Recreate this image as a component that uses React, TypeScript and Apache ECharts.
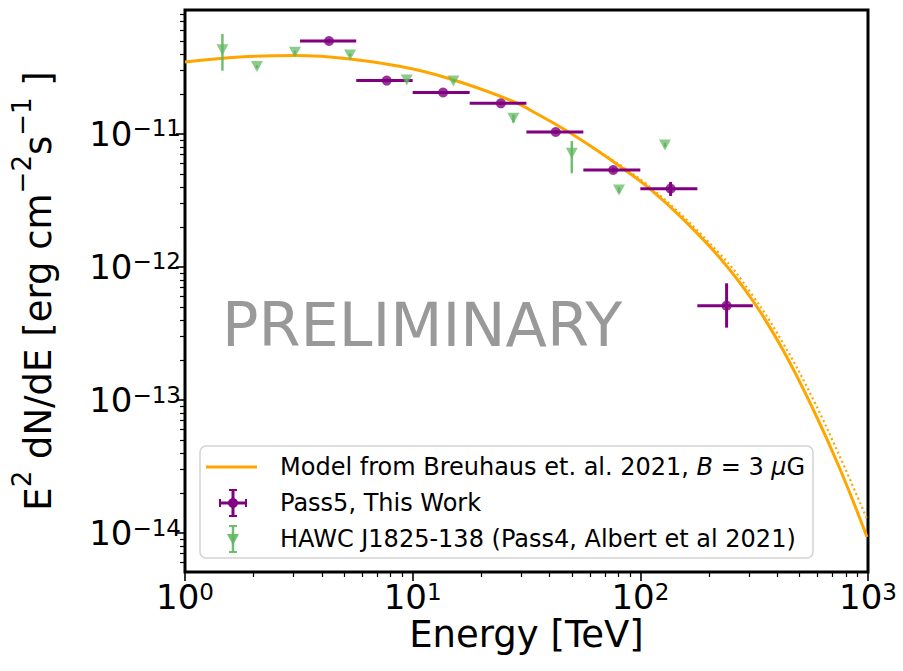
import React, { useEffect, useRef } from 'react';
import * as echarts from 'echarts';

// ---------- data ----------
const xMajorExponents = [0, 1, 2, 3];
const yMajorExponents = [-14, -13, -12, -11];
const xRange = [0, 3]; // log10(E / TeV)
const yRange = [-14.293, -10.068]; // log10(flux)

// Pass5, This Work
const pass5Energy = [4.29, 7.69, 13.6, 24.4, 42.5, 76.0, 135.8, 239.3];
const pass5EnergyLow = [3.2, 5.65, 10.0, 17.8, 31.6, 56.2, 100, 178];
const pass5EnergyHigh = [5.65, 10.0, 17.8, 31.6, 56.2, 100, 178, 312];
const pass5Flux = [5.0e-11, 2.52e-11, 2.05e-11, 1.7e-11, 1.035e-11, 5.36e-12, 3.88e-12, 5.12e-13];
const pass5FluxLow = [4.85e-11, 2.45e-11, 1.99e-11, 1.65e-11, 1.0e-11, 5.15e-12, 3.42e-12, 3.5e-13];
const pass5FluxHigh = [5.15e-11, 2.6e-11, 2.11e-11, 1.75e-11, 1.07e-11, 5.58e-12, 4.36e-12, 7.54e-13];

// HAWC J1825-138 (Pass4, Albert et al 2021)
const hawcEnergy = [1.46, 2.07, 3.04, 5.31, 9.42, 15.1, 27.7, 50.0, 80.6, 128.3];
const hawcFlux = [4.29e-11, 3.21e-11, 4.11e-11, 3.93e-11, 2.55e-11, 2.5e-11, 1.31e-11, 7.16e-12, 3.79e-12, 8.27e-12];
const hawcFluxLow = [2.99e-11, 3.12e-11, 4.0e-11, 3.83e-11, 2.49e-11, 2.44e-11, 1.22e-11, 5.07e-12, 3.62e-12, 7.95e-12];
const hawcFluxHigh = [5.65e-11, 3.3e-11, 4.22e-11, 4.03e-11, 2.61e-11, 2.56e-11, 1.4e-11, 8.86e-12, 3.96e-12, 8.6e-12];

// Model from Breuhaus et al. 2021 (solid) and its dotted variant
const modelEnergy = [1.0, 1.744, 3.042, 5.305, 10.03, 16.14, 27.31, 36.25, 47.64, 63.23, 83.9, 110.3, 157.1, 223.8, 312.6, 423.3, 573.4, 753.4, 990];
const modelFlux = [3.478e-11, 3.792e-11, 3.892e-11, 3.664e-11, 3.082e-11, 2.46e-11, 1.77e-11, 1.377e-11, 1.053e-11, 7.71e-12, 5.5e-12, 3.86e-12, 2.217e-12, 1.168e-12, 5.55e-13, 2.376e-13, 8.56e-14, 3.03e-14, 9.33e-15];
const dottedEnergy = [63.23, 110.3, 223.8, 312.6, 423.3, 573.4, 753.4, 990];
const dottedFlux = [7.71e-12, 3.995e-12, 1.252e-12, 6.05e-13, 2.683e-13, 1.017e-13, 3.73e-14, 1.274e-14];

const LOG = (v: number) => Math.log10(v);

const xMinor: number[] = [];
for (let d = 0; d < 3; d++) for (let m = 2; m <= 9; m++) xMinor.push(d + LOG(m));
const yMinor: number[] = [];
for (let d = -15; d <= -11; d++)
  for (let m = 2; m <= 9; m++) {
    const v = d + LOG(m);
    if (v > yRange[0] && v < yRange[1]) yMinor.push(v);
  }

const FONT = 'DejaVu Sans';
const PURPLE = '#800080';
const GREEN = 'rgba(92,182,92,0.88)';
const ORANGE = '#ffa500';

function errorBarItem(color: string, width: number) {
  return (_params: any, api: any) => {
    const x = api.value(0), y = api.value(1);
    const xl = api.value(2), xh = api.value(3), yl = api.value(4), yh = api.value(5);
    const c = api.coord([x, y]);
    const a = api.coord([xl, y]);
    const b = api.coord([xh, y]);
    const lo = api.coord([x, yl]);
    const hi = api.coord([x, yh]);
    const style = { stroke: color, lineWidth: width };
    const children: any[] = [];
    if (Math.abs(b[0] - a[0]) > 0.5)
      children.push({ type: 'line', shape: { x1: a[0], y1: c[1], x2: b[0], y2: c[1] }, style });
    children.push({ type: 'line', shape: { x1: c[0], y1: lo[1], x2: c[0], y2: hi[1] }, style });
    return { type: 'group', children };
  };
}

export default function App() {
  const ref = useRef<HTMLDivElement>(null);
  useEffect(() => {
    if (!ref.current) return;
    const chart = echarts.init(ref.current, undefined, { renderer: 'svg' });

    const pass5Bars = pass5Energy.map((e, i) => [LOG(e), LOG(pass5Flux[i]), LOG(pass5EnergyLow[i]), LOG(pass5EnergyHigh[i]), LOG(pass5FluxLow[i]), LOG(pass5FluxHigh[i])]);
    const hawcBars = hawcEnergy.map((e, i) => [LOG(e), LOG(hawcFlux[i]), LOG(e), LOG(e), LOG(hawcFluxLow[i]), LOG(hawcFluxHigh[i])]);
    const supRich = {
      b: { fontFamily: FONT, fontSize: 34, lineHeight: 34, color: '#000' },
      s: { fontFamily: FONT, fontSize: 23, lineHeight: 2, verticalAlign: 'top', color: '#000' },
    };
    const nameRich = {
      n: { fontFamily: FONT, fontSize: 37, lineHeight: 48, verticalAlign: 'bottom', color: '#000' },
      s: { fontFamily: FONT, fontSize: 26, lineHeight: 26, verticalAlign: 'top', color: '#000' },
    };

    const option: any = {
      animation: false,
      backgroundColor: '#fff',
      grid: { left: 185, right: 35, top: 10, bottom: 99, show: true, borderColor: '#000', borderWidth: 3, backgroundColor: 'transparent' },
      xAxis: [
        {
          type: 'value', min: xRange[0], max: xRange[1], position: 'bottom',
          axisLine: { show: false, onZero: false },
          splitLine: { show: false },
          axisTick: { show: true, customValues: xMajorExponents, length: 9, lineStyle: { color: '#000', width: 1.6 } },
          axisLabel: {
            customValues: xMajorExponents, margin: 8,
            formatter: (v: number) => `{b|10}{s|${Math.round(v)}}`,
            rich: supRich,
          },
          name: 'Energy [TeV]', nameLocation: 'middle', nameGap: 44, nameMoveOverlap: false,
          nameTextStyle: { fontFamily: FONT, fontSize: 37, lineHeight: 37, color: '#000' },
        },
        {
          type: 'value', min: xRange[0], max: xRange[1], position: 'bottom',
          axisLine: { show: false, onZero: false }, splitLine: { show: false },
          axisLabel: { show: false },
          axisTick: { show: true, customValues: xMinor, length: 5, lineStyle: { color: '#000', width: 1.2 } },
        },
      ],
      yAxis: [
        {
          type: 'value', min: yRange[0], max: yRange[1], position: 'left',
          axisLine: { show: false, onZero: false }, splitLine: { show: false },
          axisTick: { show: true, customValues: yMajorExponents, length: 9, lineStyle: { color: '#000', width: 1.6 } },
          axisLabel: {
            customValues: yMajorExponents, margin: 4,
            formatter: (v: number) => `{b|10}{s|\u2212${Math.abs(Math.round(v))}}`,
            rich: supRich,
          },
          name: '{n|E}{s|2}{n| dN/dE [erg cm}{s|\u22122}{n|s}{s|\u22121}{n| ]}',
          nameLocation: 'middle', nameGap: 128, nameRotate: 90,
          nameTextStyle: { rich: nameRich, fontFamily: FONT, fontSize: 37, color: '#000' },
        },
        {
          type: 'value', min: yRange[0], max: yRange[1], position: 'left',
          axisLine: { show: false, onZero: false }, splitLine: { show: false },
          axisLabel: { show: false },
          axisTick: { show: true, customValues: yMinor, length: 5, lineStyle: { color: '#000', width: 1.2 } },
        },
      ],
      series: [
        {
          type: 'line', name: 'model', xAxisIndex: 0, yAxisIndex: 0,
          data: modelEnergy.map((e, i) => [LOG(e), LOG(modelFlux[i])]),
          smooth: 0.4, showSymbol: false, symbol: 'none',
          lineStyle: { color: ORANGE, width: 3 }, z: 2,
        },
        {
          type: 'line', name: 'model dotted', xAxisIndex: 0, yAxisIndex: 0,
          data: dottedEnergy.map((e, i) => [LOG(e), LOG(dottedFlux[i])]),
          smooth: 0.4, showSymbol: false, symbol: 'none',
          lineStyle: { color: ORANGE, width: 2.2, type: [2, 3] }, z: 2,
        },
        {
          type: 'custom', name: 'Pass5 err', xAxisIndex: 0, yAxisIndex: 0,
          data: pass5Bars, encode: { x: 0, y: 1 },
          renderItem: errorBarItem(PURPLE, 3), z: 3,
        },
        {
          type: 'scatter', name: 'Pass5', xAxisIndex: 0, yAxisIndex: 0,
          data: pass5Bars.map((d) => [d[0], d[1]]),
          symbol: 'circle', symbolSize: 10, itemStyle: { color: PURPLE }, z: 4,
        },
        {
          type: 'custom', name: 'HAWC err', xAxisIndex: 0, yAxisIndex: 0,
          data: hawcBars, encode: { x: 0, y: 1 },
          renderItem: errorBarItem(GREEN, 2.5), z: 3,
        },
        {
          type: 'scatter', name: 'HAWC', xAxisIndex: 0, yAxisIndex: 0,
          data: hawcBars.map((d) => [d[0], d[1]]),
          symbol: 'triangle', symbolRotate: 180, symbolSize: [12, 11], itemStyle: { color: GREEN }, z: 4,
        },
      ],
      graphic: [
        {
          type: 'text', left: 222, top: 294, z: 1,
          style: { text: 'PRELIMINARY', fontFamily: FONT, fontSize: 60.5, fill: '#999999' },
        },
        {
          type: 'group', z: 10,
          children: [
            { type: 'rect', shape: { x: 200, y: 446, width: 613, height: 112, r: 6 }, style: { fill: 'rgba(255,255,255,0.85)', stroke: '#d3d3d3', lineWidth: 1.5 } },
            { type: 'line', shape: { x1: 206, y1: 467, x2: 257, y2: 467 }, style: { stroke: ORANGE, lineWidth: 3 } },
            {
              type: 'text', x: 280, y: 467,
              style: {
                text: 'Model from Breuhaus et. al. 2021, {i|B} = 3 {i|\u03bc}G',
                fontFamily: FONT, fontSize: 24, fill: '#000', verticalAlign: 'middle',
                rich: { i: { fontFamily: FONT, fontSize: 24, fontStyle: 'italic', fill: '#000' } },
              },
            },
            // purple icon
            { type: 'line', shape: { x1: 220, y1: 503, x2: 246, y2: 503 }, style: { stroke: PURPLE, lineWidth: 3 } },
            { type: 'line', shape: { x1: 233, y1: 490, x2: 233, y2: 516 }, style: { stroke: PURPLE, lineWidth: 3 } },
            { type: 'line', shape: { x1: 220, y1: 499, x2: 220, y2: 507 }, style: { stroke: PURPLE, lineWidth: 2 } },
            { type: 'line', shape: { x1: 246, y1: 499, x2: 246, y2: 507 }, style: { stroke: PURPLE, lineWidth: 2 } },
            { type: 'line', shape: { x1: 229, y1: 490, x2: 237, y2: 490 }, style: { stroke: PURPLE, lineWidth: 2 } },
            { type: 'line', shape: { x1: 229, y1: 516, x2: 237, y2: 516 }, style: { stroke: PURPLE, lineWidth: 2 } },
            { type: 'circle', shape: { cx: 233, cy: 503, r: 5 }, style: { fill: PURPLE } },
            { type: 'text', x: 280, y: 503, style: { text: 'Pass5, This Work', fontFamily: FONT, fontSize: 24, fill: '#000', verticalAlign: 'middle' } },
            // green icon
            { type: 'line', shape: { x1: 233, y1: 526, x2: 233, y2: 552 }, style: { stroke: GREEN, lineWidth: 2.5 } },
            { type: 'line', shape: { x1: 229, y1: 526, x2: 237, y2: 526 }, style: { stroke: GREEN, lineWidth: 2 } },
            { type: 'line', shape: { x1: 229, y1: 552, x2: 237, y2: 552 }, style: { stroke: GREEN, lineWidth: 2 } },
            { type: 'polygon', shape: { points: [[227, 534], [239, 534], [233, 545]] }, style: { fill: GREEN } },
            { type: 'text', x: 280, y: 539, style: { text: 'HAWC J1825-138 (Pass4, Albert et al 2021)', fontFamily: FONT, fontSize: 24, fill: '#000', verticalAlign: 'middle' } },
          ],
        },
      ],
    };
    chart.setOption(option);
    return () => chart.dispose();
  }, []);
  return <div ref={ref} style={{ position: 'absolute', left: 0, top: 0, width: 903, height: 671, background: '#fff' }} />;
}
